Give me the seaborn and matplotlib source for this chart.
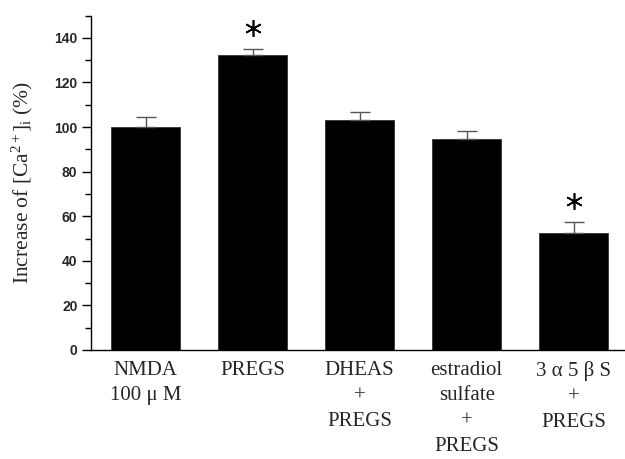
"""
plot.py - [Ca2+]i increase bar chart (NMDA / neurosteroids).
"""

import matplotlib
matplotlib.use("Agg")  # non-interactive backend

import numpy as np
import pandas as pd
import matplotlib.pyplot as plt
import seaborn as sns

# values
groups = ["NMDA\n100 μ M", "PREGS", "DHEAS\n+\nPREGS",
          "estradiol\nsulfate\n+\nPREGS", "3 α 5 β S\n+\nPREGS"]
means = [100.0, 132.5, 103.2, 94.6, 52.7]
sems = [4.6, 2.4, 3.5, 3.5, 4.7]
significant = [False, True, False, False, True]

sns.set_theme(style="ticks")
plt.rcParams["font.family"] = ["Liberation Serif", "DejaVu Serif"]
plt.rcParams["mathtext.fontset"] = "custom"
plt.rcParams["mathtext.rm"] = "Liberation Serif"
plt.rcParams["mathtext.it"] = "Liberation Serif:italic"

df = pd.DataFrame({"group": groups, "mean": means, "sem": sems})

fig = plt.figure(figsize=(6.25, 4.59), dpi=100)
ax = fig.add_axes([0.145, 0.2375, 0.855, 0.7285])

sns.barplot(data=df, x="group", y="mean", color="black", width=0.65,
            errorbar=None, saturation=1, edgecolor="#333333", linewidth=0.6,
            ax=ax)

x = np.arange(len(groups))
# only the upper half of the error bar is drawn
ax.errorbar(x, df["mean"], yerr=[np.zeros(len(groups)), df["sem"]],
            fmt="none", ecolor="#555555", elinewidth=1.0, capsize=7,
            capthick=1.0, zorder=1)

# asterisks over significant groups
sig = df[significant]
ax.plot(sig.index, sig["mean"] + sig["sem"] + 9.5, linestyle="none",
        marker=(6, 2, 0), markersize=12, markeredgewidth=1.2, color="black")

ax.set_xlim(-0.514, 4.48)
ax.set_ylim(0, 150)
ax.set_yticks(np.arange(0, 141, 20))
ax.set_yticks(np.arange(0, 151, 10), minor=True)
ax.set_xlabel("")
ax.set_ylabel(r"Increase of [Ca$^{2+}$]$_{\rm i}$ (%)", fontsize=15.5,
              labelpad=14)

for lab in ax.get_yticklabels():
    lab.set_family(["Liberation Sans", "DejaVu Sans"])
    lab.set_fontweight("bold")
    lab.set_fontsize(10)

ax.tick_params(axis="y", which="major", direction="out", length=6.5,
               width=1.0, pad=3, color="black")
ax.tick_params(axis="y", which="minor", direction="out", length=4,
               width=1.0, color="black")
ax.tick_params(axis="x", length=0, pad=8, labelsize=15)
for lab in ax.get_xticklabels():
    lab.set_linespacing(1.45)
    lab.set_verticalalignment("top")

sns.despine(ax=ax)
for side in ["left", "bottom"]:
    ax.spines[side].set_color("black")
    ax.spines[side].set_linewidth(1.0)

fig.savefig("out.png", dpi=100)
plt.close(fig)
